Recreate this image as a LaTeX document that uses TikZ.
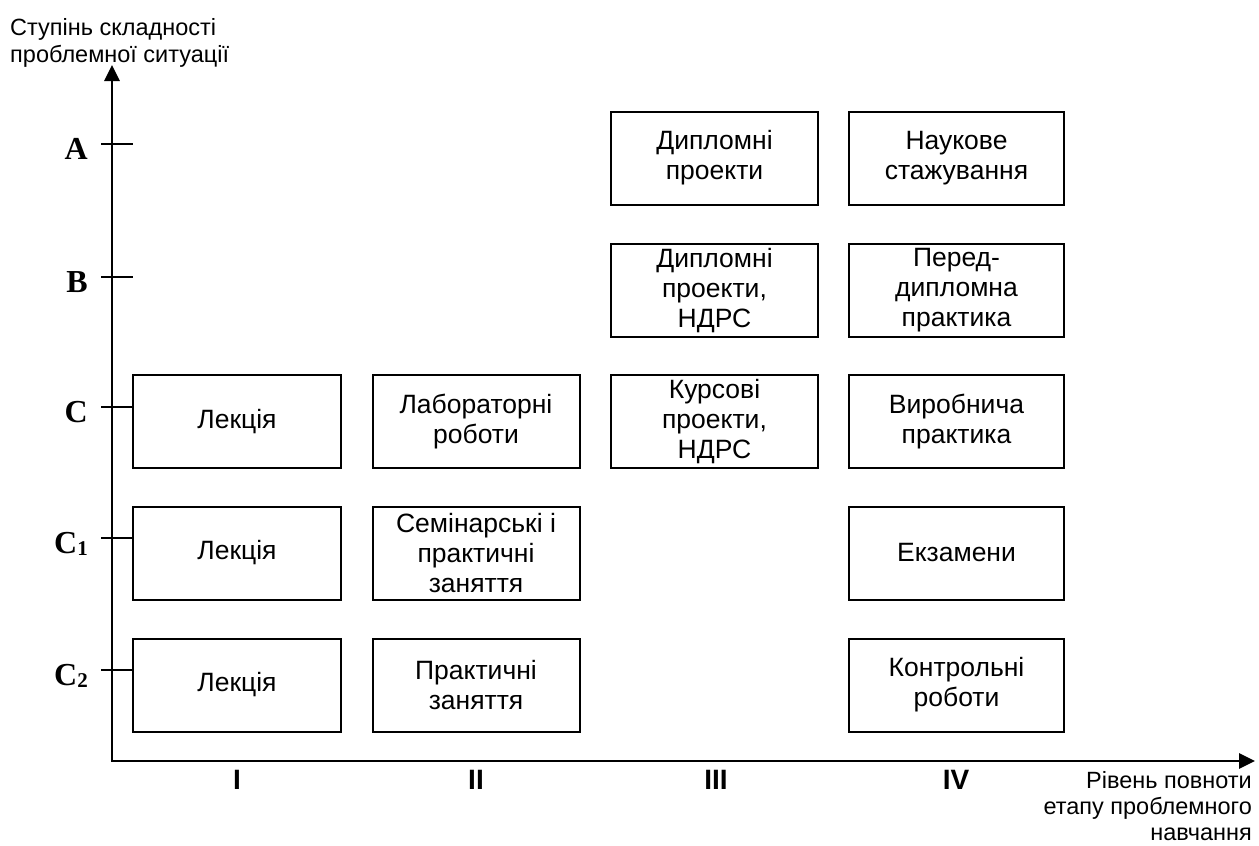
\documentclass[tikz,border=0pt]{standalone}
\usepackage{fontspec}
\setmainfont{Liberation Sans}
\newfontfamily\levelfont{Liberation Serif}
\usetikzlibrary{arrows.meta}

\newcommand{\lvlidx}[1]{\raisebox{-2pt}{\fontsize{21}{21}\selectfont #1}}

\tikzset{
  form/.style={draw,line width=2pt,minimum width=207pt,minimum height=93pt,
    align=center,inner sep=0pt,font=\fontsize{26.5}{30}\selectfont},
  axistitle/.style={inner sep=0pt,font=\fontsize{23.5}{27}\selectfont},
  level/.style={inner sep=0pt,font=\levelfont\bfseries\fontsize{32}{32}\selectfont},
  stage/.style={inner sep=0pt,font=\bfseries\fontsize{28}{28}\selectfont},
}

\begin{document}
\begin{tikzpicture}[x=1pt,y=-1pt]
    \useasboundingbox (0,0) rectangle (1259,846);
    % axes
    \draw[line width=2.7pt,{Triangle[length=16pt,width=15pt]}-{Triangle[length=16pt,width=15pt]}]
        (112,65) -- (112,761) -- (1255,761);
    \node[axistitle,anchor=north west,align=left] (ytitle) at (10,18.5) {Ступінь складності\\проблемної ситуації};
    \node[axistitle,anchor=north east,align=right,font=\fontsize{23.5}{26}\selectfont] (xtitle) at (1252,771) {Рівень повноти\\етапу проблемного\\навчання};
    % levels
    \foreach \t/\name/\txt in {144/lvA/A,277/lvB/B,407/lvC/C,538/lvCi/C\lvlidx{1},670/lvCii/C\lvlidx{2}}
    {
        \draw[line width=2pt] (101,\t) -- (133,\t);
        \node[level,anchor=base east] (\name) at (88,\t+15) {\txt};
    }
    % stages
    \foreach \x/\num in {237/I,476/II,716/III,956/IV}
        \node[stage,anchor=base] (st\num) at (\x,789) {\num};
    % forms of study
    \node[form] (dipA) at (714.5,158) {Дипломні\\проекти};
    \node[form,minimum width=215pt] (naukA) at (956.5,158) {Наукове\\стажування};
    \node[form] (dipB) at (714.5,290.5) {Дипломні\\проекти,\\НДРС};
    \node[form,minimum width=215pt] (pereddipB) at (956.5,290.5) {Перед-\\дипломна\\практика};
    \node[form,minimum width=208pt] (lecC) at (237,421.5) {Лекція};
    \node[form] (labC) at (476,421.5) {Лабораторні\\роботи};
    \node[form] (kursC) at (714.5,421.5) {Курсові\\проекти,\\НДРС};
    \node[form,minimum width=215pt] (vyrobC) at (956.5,421.5) {Виробнича\\практика};
    \node[form,minimum width=208pt] (lecCi) at (237,553) {Лекція};
    \node[form] (seminCi) at (476,553) {Семінарські і\\практичні\\заняття};
    \node[form,minimum width=215pt] (ekzCi) at (956.5,553) {Екзамени};
    \node[form,minimum width=208pt] (lecCii) at (237,685) {Лекція};
    \node[form] (praktCii) at (476,685) {Практичні\\заняття};
    \node[form,minimum width=215pt] (kontrCii) at (956.5,685) {Контрольні\\роботи};
\end{tikzpicture}
\end{document}
